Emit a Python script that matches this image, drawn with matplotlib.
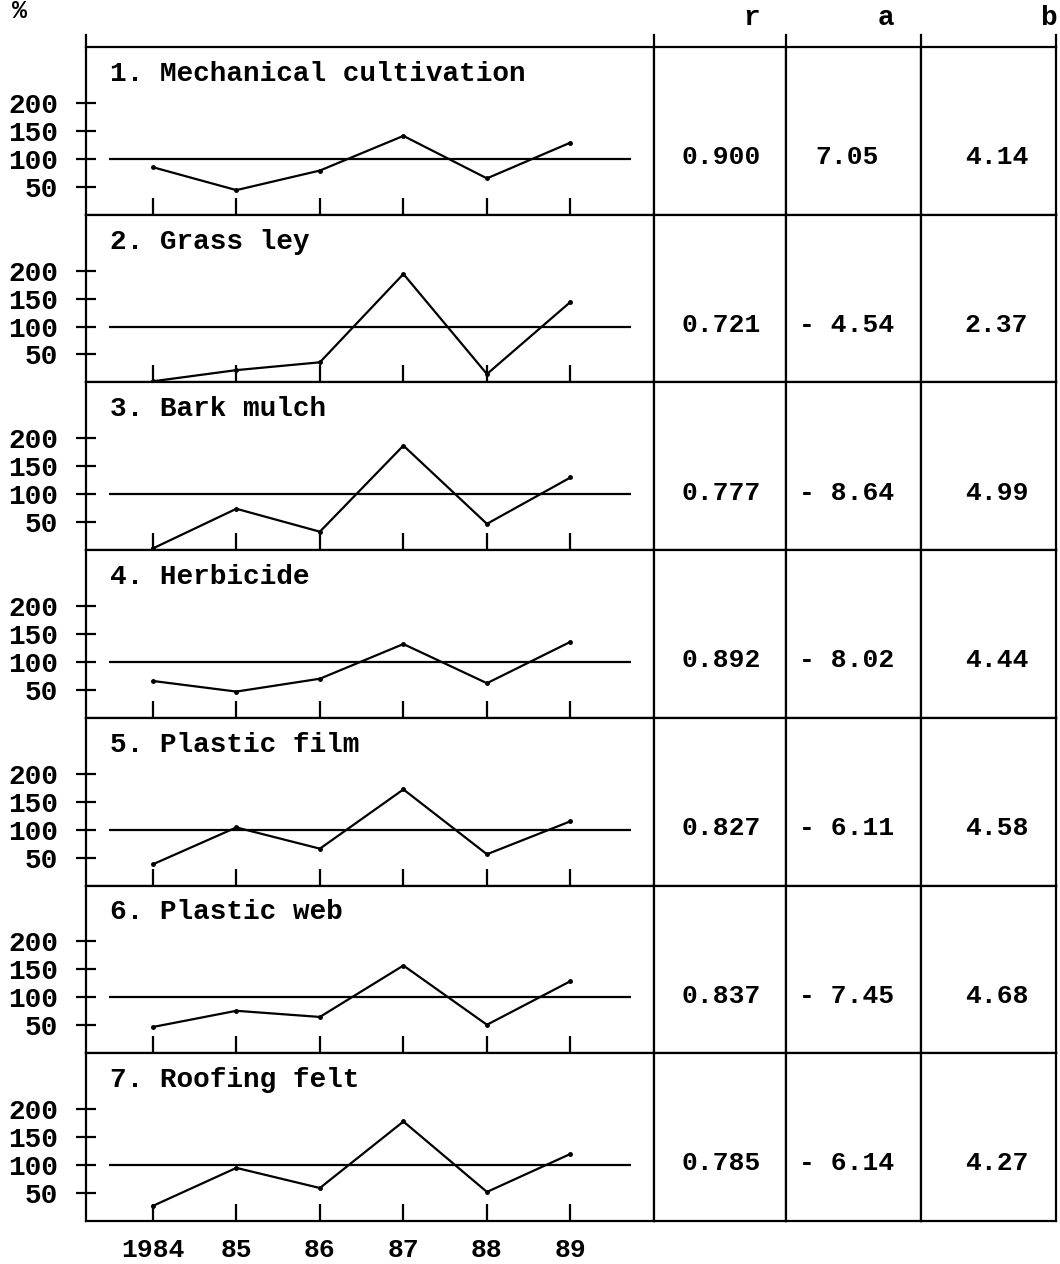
import matplotlib.pyplot as plt
from matplotlib.lines import Line2D

# Data
years = [1984, 1985, 1986, 1987, 1988, 1989]
year_labels = ['1984', '85', '86', '87', '88', '89']
treatments = ['1. Mechanical cultivation', '2. Grass ley', '3. Bark mulch',
              '4. Herbicide', '5. Plastic film', '6. Plastic web', '7. Roofing felt']

mech_cultivation = [85, 44, 79, 141, 65, 129]
grass_ley = [2, 22, 36, 194, 15, 144]
bark_mulch = [3, 74, 33, 187, 47, 130]
herbicide = [66, 47, 70, 132, 62, 136]
plastic_film = [38, 104, 66, 172, 56, 115]
plastic_web = [47, 76, 65, 157, 51, 129]
roofing_felt = [27, 95, 59, 178, 52, 120]
series = [mech_cultivation, grass_ley, bark_mulch, herbicide,
          plastic_film, plastic_web, roofing_felt]

r_vals = [0.900, 0.721, 0.777, 0.892, 0.827, 0.837, 0.785]
a_vals = [7.05, -4.54, -8.64, -8.02, -6.11, -7.45, -6.14]
b_vals = [4.14, 2.37, 4.99, 4.44, 4.58, 4.68, 4.27]
col_heads = ['r', 'a', 'b']

# Layout in pixels of the 1060 x 1264 page
W, H = 1060, 1264
LEFT, CHART_R, COL_A, COL_B, RIGHT = 86, 654, 786, 921, 1056
TOP, BOTTOM = 47, 1221
ph = (BOTTOM - TOP) / len(series)

plt.rcParams['font.family'] = ['Liberation Mono', 'DejaVu Sans Mono']
plt.rcParams['font.weight'] = 'bold'
lw = 1.6

fig = plt.figure(figsize=(W / 100, H / 100), dpi=100, facecolor='white')


def fx(x):
    return x / W


def fy(y):
    return 1 - y / H


col_edges = [(CHART_R, COL_A), (COL_A, COL_B), (COL_B, RIGHT)]
col_text_x = [0.51, 0.45, 0.56]
head_x = [752, 886, 1049]

for i, vals in enumerate(series):
    top = TOP + i * ph
    ax = fig.add_axes([fx(LEFT), fy(top + ph), (CHART_R - LEFT) / W, ph / H])
    ax.set_xlim(1983.2, 1990.0)
    ax.set_ylim(0, 300)
    ax.hlines(100, 1983.47, 1989.72, color='black', lw=lw)
    ax.plot(years, vals, color='black', lw=lw, marker='o', ms=2.5)
    ax.text(0.042, 0.84, treatments[i], transform=ax.transAxes,
            fontsize=20, ha='left', va='center')
    ax.set_yticks([50, 100, 150, 200])
    ax.tick_params(axis='y', direction='inout', length=14, width=lw,
                   labelsize=20, pad=13)
    ax.set_xticks(years)
    ax.tick_params(axis='x', direction='in', length=12, width=lw,
                   labelsize=19, pad=12)
    if i < len(series) - 1:
        ax.set_xticklabels([])
    else:
        ax.set_xticklabels(year_labels)
    for s in ax.spines.values():
        s.set_linewidth(lw)

    cells = [f'{r_vals[i]:.3f}',
             f'{a_vals[i]:.2f}' if a_vals[i] >= 0 else f'- {abs(a_vals[i]):.2f}',
             f'{b_vals[i]:.2f}']
    for (x0, x1), tx, txt in zip(col_edges, col_text_x, cells):
        cax = fig.add_axes([fx(x0), fy(top + ph), (x1 - x0) / W, ph / H])
        cax.set_xticks([])
        cax.set_yticks([])
        for s in cax.spines.values():
            s.set_linewidth(lw)
        cax.text(tx, 0.343, txt, transform=cax.transAxes, fontsize=19,
                 ha='center', va='center')

# short stubs above the top border
for x in [LEFT, CHART_R, COL_A, COL_B, RIGHT]:
    fig.add_artist(Line2D([fx(x), fx(x)], [fy(35), fy(TOP)], color='black', lw=lw))

# column headers and unit
for hx, head in zip(head_x, col_heads):
    fig.text(fx(hx), fy(18), head, fontsize=20, ha='center', va='center')
fig.text(fx(20), fy(11), '%', fontsize=18, ha='center', va='center')

fig.savefig('out.png', dpi=100, facecolor='white')
